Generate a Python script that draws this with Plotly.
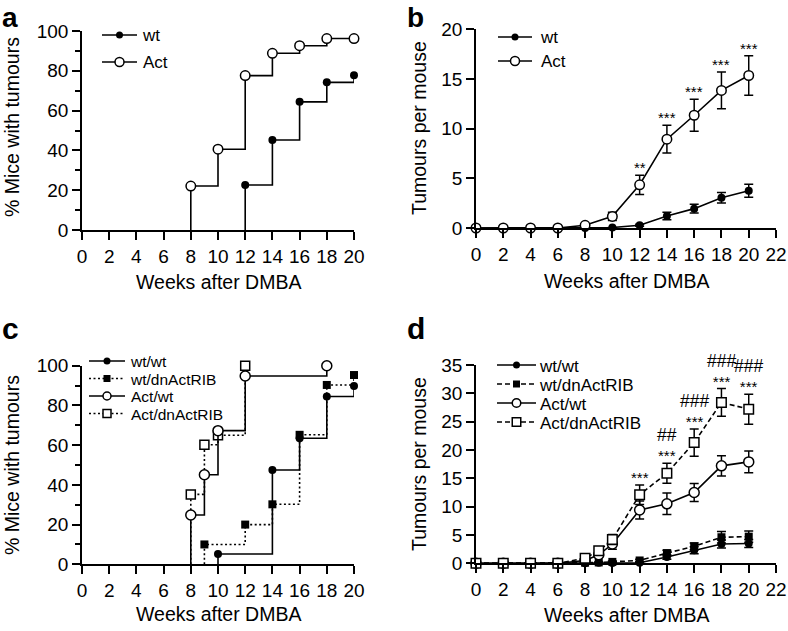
import plotly.graph_objects as go

W, H = 788, 631
FONT = "Liberation Sans, Arial, Helvetica, sans-serif"
LW = 1.6

# ---------------- data ----------------
# panel a: % mice with tumours (step curves)
a_act_weeks = [8, 10, 12, 14, 16, 18, 20]
a_act_pct = [22.1, 40.6, 77.6, 88.8, 92.6, 96.2, 96.2]
a_wt_weeks = [12, 14, 16, 18, 20]
a_wt_pct = [22.6, 45.2, 64.4, 74.2, 77.8]

# panel b: tumours per mouse (mean +/- s.e.m.)
b_weeks = [0, 2, 4, 6, 8, 10, 12, 14, 16, 18, 20]
b_wt = [0, 0, 0, 0, 0, 0.05, 0.27, 1.2, 1.95, 3.05, 3.75]
b_wt_err = [0, 0, 0, 0, 0, 0, 0.1, 0.38, 0.45, 0.53, 0.65]
b_act = [0, 0, 0, 0, 0.27, 1.17, 4.35, 8.94, 11.35, 13.85, 15.35]
b_act_err = [0, 0, 0, 0, 0.1, 0.42, 0.97, 1.4, 1.6, 1.85, 2.0]
b_sig_weeks = [12, 14, 16, 18, 20]
b_sig_labels = ["**", "***", "***", "***", "***"]

# panel c: % mice with tumours (step curves)
c_wtwt_weeks = [10, 14, 16, 18, 20]
c_wtwt_pct = [5.2, 47.5, 63.5, 84.5, 89.8]
c_wtdn_weeks = [9, 12, 14, 16, 18, 20]
c_wtdn_pct = [10.0, 20.0, 30.2, 65.2, 90.3, 95.3]
c_actwt_weeks = [8, 9, 10, 12, 18]
c_actwt_pct = [24.8, 45.1, 67.3, 94.8, 100.0]
c_actdn_weeks = [8, 9, 10, 12]
c_actdn_pct = [35.2, 60.2, 65.0, 100.0]

# panel d: tumours per mouse (mean +/- s.e.m.)
d_weeks = [0, 2, 4, 6, 8, 9, 10, 12, 14, 16, 18, 20]
d_wtwt = [0, 0, 0, 0, 0, 0.1, 0.05, 0.1, 1.1, 2.3, 3.4, 3.5]
d_wtwt_err = [0, 0, 0, 0, 0, 0.1, 0.1, 0.15, 0.4, 0.6, 0.7, 0.7]
d_wtdn = [0, 0, 0, 0, 0.1, 0.15, 0.25, 0.5, 1.8, 3.0, 4.6, 4.7]
d_wtdn_err = [0, 0, 0, 0, 0.05, 0.1, 0.15, 0.2, 0.5, 0.6, 1.0, 1.0]
d_actwt = [0, 0, 0, 0, 0.5, 1.5, 3.4, 9.4, 10.5, 12.5, 17.2, 17.9]
d_actwt_err = [0, 0, 0, 0, 0.2, 0.4, 0.9, 1.6, 1.9, 1.6, 1.8, 1.9]
d_actdn = [0, 0, 0, 0, 0.9, 2.2, 4.2, 12.1, 15.9, 21.3, 28.4, 27.2]
d_actdn_err = [0, 0, 0, 0, 0.2, 0.4, 0.9, 1.7, 1.75, 2.4, 2.45, 2.65]
d_sig_weeks = [12, 14, 16, 18, 20]
d_star_labels = ["***", "***", "***", "***", "***"]
d_hash_labels = ["", "##", "###", "###", "###"]

x_title = "Weeks after DMBA"
y_title_pct = "% Mice with tumours"
y_title_num = "Tumours per mouse"

# ---------------- layout helpers ----------------
# panel boxes in pixels: (x_left, x_right, y_top, y_bottom)
boxes = {
    "a": (82, 354, 31, 230),
    "b": (476, 776, 29.3, 228),
    "c": (82, 354, 365.7, 564.3),
    "d": (476, 776, 365, 563.3),
}
axis_ids = {"a": "", "b": "2", "c": "3", "d": "4"}


def px(x):
    return x / W


def py(y):
    return 1 - y / H


fig = go.Figure()
annotations = []

# styles
S_FILLED_CIRCLE = dict(symbol="circle", color="black", size=8, line=dict(width=0))
S_OPEN_CIRCLE = dict(symbol="circle", color="white", size=10, line=dict(color="black", width=1.5))
S_FILLED_SQUARE = dict(symbol="square", color="black", size=8, line=dict(width=0))
S_OPEN_SQUARE = dict(symbol="square", color="white", size=9, line=dict(color="black", width=1.5))
DOT = "2px,2.5px"
DASH = "5px,3px"


def ax(panel):
    i = axis_ids[panel]
    return "x" + i, "y" + i


def step_series(panel, weeks, vals, dash, marker):
    xa, ya = ax(panel)
    fig.add_trace(go.Scatter(
        x=[weeks[0]] + list(weeks), y=[0] + list(vals), mode="lines",
        line=dict(color="black", width=LW, dash=dash, shape="hv"),
        xaxis=xa, yaxis=ya, showlegend=False, hoverinfo="skip", cliponaxis=False))
    fig.add_trace(go.Scatter(
        x=weeks, y=vals, mode="markers", marker=marker,
        xaxis=xa, yaxis=ya, showlegend=False, cliponaxis=False))


def err_series(panel, weeks, vals, err, dash, marker):
    xa, ya = ax(panel)
    fig.add_trace(go.Scatter(
        x=weeks, y=vals, mode="lines+markers",
        line=dict(color="black", width=LW, dash=dash),
        marker=marker,
        error_y=dict(type="data", array=[e if e > 0 else None for e in err],
                     color="black", thickness=1.5, width=4.5),
        xaxis=xa, yaxis=ya, showlegend=False, cliponaxis=False))


def sig_labels(panel, weeks, stars, hashes, ref_weeks, ref_vals, ref_err):
    xa, ya = ax(panel)
    for w, st, hs in zip(weeks, stars, hashes):
        k = ref_weeks.index(w)
        txt = st if not hs else "<span style='font-size:17.5px'>%s</span><br>%s" % (hs, st)
        annotations.append(dict(
            x=w, y=ref_vals[k] + ref_err[k], xref=xa, yref=ya, text=txt,
            showarrow=False, yanchor="bottom", xanchor="center", yshift=-3,
            font=dict(size=15, family=FONT, color="black")))


# panel a
step_series("a", a_act_weeks, a_act_pct, None, dict(S_OPEN_CIRCLE, size=9.5))
step_series("a", a_wt_weeks, a_wt_pct, None, S_FILLED_CIRCLE)

# panel b
err_series("b", b_weeks, b_wt, b_wt_err, None, S_FILLED_CIRCLE)
err_series("b", b_weeks, b_act, b_act_err, None, dict(S_OPEN_CIRCLE, size=9.5))
sig_labels("b", b_sig_weeks, b_sig_labels, [""] * len(b_sig_labels), b_weeks, b_act, b_act_err)

# panel c
step_series("c", c_wtdn_weeks, c_wtdn_pct, DOT, S_FILLED_SQUARE)
step_series("c", c_actdn_weeks, c_actdn_pct, DOT, S_OPEN_SQUARE)
step_series("c", c_wtwt_weeks, c_wtwt_pct, None, S_FILLED_CIRCLE)
step_series("c", c_actwt_weeks, c_actwt_pct, None, S_OPEN_CIRCLE)

# panel d
err_series("d", d_weeks, d_wtwt, d_wtwt_err, None, S_FILLED_CIRCLE)
err_series("d", d_weeks, d_wtdn, d_wtdn_err, DASH, S_FILLED_SQUARE)
err_series("d", d_weeks, d_actwt, d_actwt_err, None, S_OPEN_CIRCLE)
err_series("d", d_weeks, d_actdn, d_actdn_err, DASH, dict(S_OPEN_SQUARE, size=9.5))
sig_labels("d", d_sig_weeks, d_star_labels, d_hash_labels, d_weeks, d_actdn, d_actdn_err)


# ---------------- legends (drawn on a pixel overlay) ----------------
def legend(entries, x0, x1, rows, tx, fsize):
    # keys
    for (label, dash, marker), ry in zip(entries, rows):
        fig.add_trace(go.Scatter(
            x=[x0, x1], y=[ry, ry], mode="lines",
            line=dict(color="black", width=LW, dash=dash),
            xaxis="x5", yaxis="y5", showlegend=False, hoverinfo="skip", cliponaxis=False))
        fig.add_trace(go.Scatter(
            x=[(x0 + x1) / 2], y=[ry], mode="markers", marker=marker,
            xaxis="x5", yaxis="y5", showlegend=False, hoverinfo="skip", cliponaxis=False))
    # labels as one multi-line text block, line pitch matching the rows
    pitch = (rows[-1] - rows[0]) / (len(rows) - 1)
    base = pitch / 1.3
    txt = "<br>".join("<span style='font-size:%spx'>%s</span>" % (fsize, e[0]) for e in entries)
    annotations.append(dict(
        x=px(tx), y=py((rows[0] + rows[-1]) / 2 + 1), xref="paper", yref="paper", text=txt,
        showarrow=False, xanchor="left", yanchor="middle", align="left",
        font=dict(size=base, family=FONT, color="black")))


legend([("wt", None, dict(S_FILLED_CIRCLE, size=7)),
        ("Act", None, dict(S_OPEN_CIRCLE, size=9))],
       102, 137, [35, 62], 140, 17)
legend([("wt", None, dict(S_FILLED_CIRCLE, size=7)),
        ("Act", None, dict(S_OPEN_CIRCLE, size=9))],
       498, 532, [37, 61], 538, 17)
legend([("wt/wt", None, dict(S_FILLED_CIRCLE, size=7)),
        ("wt/dnActRIB", DOT, dict(S_FILLED_SQUARE, size=7)),
        ("Act/wt", None, dict(S_OPEN_CIRCLE, size=8)),
        ("Act/dnActRIB", DOT, dict(S_OPEN_SQUARE, size=8))],
       89, 125, [361, 378.5, 396, 413.5], 128, 15.5)
legend([("wt/wt", None, dict(S_FILLED_CIRCLE, size=7)),
        ("wt/dnActRIB", DASH, dict(S_FILLED_SQUARE, size=7)),
        ("Act/wt", None, dict(S_OPEN_CIRCLE, size=8.5)),
        ("Act/dnActRIB", DASH, dict(S_OPEN_SQUARE, size=8.5))],
       497, 536, [365, 384, 403, 422], 537, 17)

# ---------------- axes ----------------
axis_common = dict(showline=True, linecolor="black", linewidth=LW, ticks="outside",
                   ticklen=8, tickwidth=LW, tickcolor="black", showgrid=False,
                   zeroline=False, tickfont=dict(size=19, family=FONT, color="black"),
                   fixedrange=True)

specs = {
    "a": dict(xr=[0, 20], yr=[0, 100], ydt=20, minor=10, ytitle=y_title_pct, ytx=12, yty=127, xty=282),
    "b": dict(xr=[0, 22], yr=[0, 20], ydt=5, minor=None, ytitle=y_title_num, ytx=419, yty=128, xty=281),
    "c": dict(xr=[0, 20], yr=[0, 100], ydt=20, minor=10, ytitle=y_title_pct, ytx=12, yty=465, xty=614),
    "d": dict(xr=[0, 22], yr=[0, 35], ydt=5, minor=None, ytitle=y_title_num, ytx=419, yty=464, xty=615),
}
labels_pos = {"a": (0, 17, 28), "b": (405, 17.5, 28), "c": (0, 329, 30), "d": (405, 329, 30)}

layout_axes = {}
for p, (xl, xr_, yt, yb) in boxes.items():
    i = axis_ids[p]
    s = specs[p]
    xkey = "xaxis" + i
    ykey = "yaxis" + i
    layout_axes[xkey] = dict(axis_common, domain=[px(xl), px(xr_)], range=s["xr"],
                             dtick=2, tick0=0, anchor="y" + i)
    ydict = dict(axis_common, domain=[py(yb), py(yt)], range=s["yr"],
                 dtick=s["ydt"], tick0=0, anchor="x" + i)
    if s["minor"]:
        ydict["minor"] = dict(dtick=s["minor"], ticks="outside", ticklen=5,
                              tickwidth=LW, tickcolor="black", showgrid=False)
    layout_axes[ykey] = ydict
    # axis titles
    annotations.append(dict(x=px((xl + xr_) / 2), y=py(s["xty"]), xref="paper", yref="paper",
                            text=x_title, showarrow=False, xanchor="center", yanchor="middle",
                            font=dict(size=19.5, family=FONT, color="black")))
    annotations.append(dict(x=px(s["ytx"]), y=py(s["yty"]), xref="paper", yref="paper",
                            text=s["ytitle"], showarrow=False, textangle=-90,
                            xanchor="center", yanchor="middle",
                            font=dict(size=19.5, family=FONT, color="black")))
    # panel letter
    lx, ly, lf = labels_pos[p]
    annotations.append(dict(x=px(lx), y=py(ly), xref="paper", yref="paper",
                            text="<b>%s</b>" % p, showarrow=False, xanchor="left",
                            yanchor="middle", font=dict(size=lf, family=FONT, color="black")))

layout_axes["xaxis5"] = dict(domain=[0, 1], range=[0, W], visible=False, anchor="y5", fixedrange=True)
layout_axes["yaxis5"] = dict(domain=[0, 1], range=[H, 0], visible=False, anchor="x5", fixedrange=True)

fig.update_layout(
    width=W, height=H, margin=dict(l=0, r=0, t=0, b=0, autoexpand=False),
    paper_bgcolor="white", plot_bgcolor="rgba(0,0,0,0)",
    font=dict(family=FONT, color="black"),
    showlegend=False, annotations=annotations, **layout_axes)

fig.write_html("out.html", config={"displayModeBar": False},
               post_script="document.body.style.margin='0px';document.body.style.overflow='hidden';")
